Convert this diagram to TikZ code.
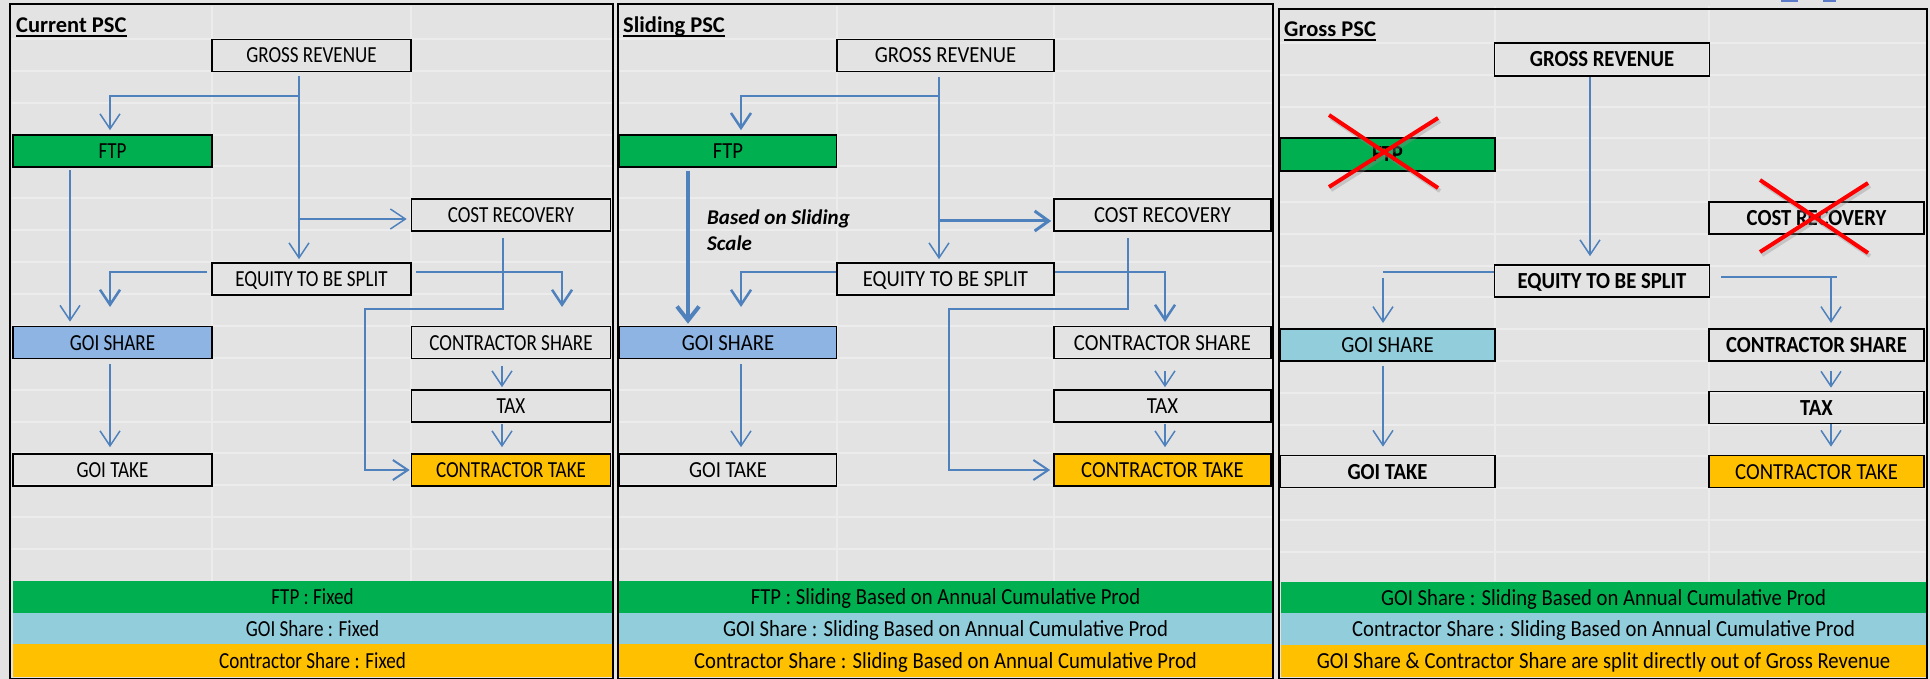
\documentclass[tikz,border=0pt]{standalone}
\usepackage{fontspec}
\setmainfont{Carlito}
\newfontfamily\boxfont{Carlito}[FakeStretch=0.83]
\newfontfamily\boxfontw{Carlito}[FakeStretch=0.90]
\usetikzlibrary{arrows.meta}
\definecolor{bgc}{HTML}{E3E3E3}
\definecolor{gridc}{HTML}{ECECEC}
\definecolor{ftpgreen}{HTML}{00B050}
\definecolor{bandblue}{HTML}{92CDDC}
\definecolor{goiblue}{HTML}{8DB4E2}
\definecolor{orng}{HTML}{FFC000}
\definecolor{arrowblue}{HTML}{4F81BD}
\definecolor{markblue}{HTML}{5B7BC8}
\begin{document}
\begin{tikzpicture}[x=1pt,y=-1pt,
  box/.style={draw=black, line width=1.6pt, minimum height=32pt, inner sep=0pt,
    text height=15pt, text depth=0pt, font=\boxfont\fontsize{23}{27}\selectfont},
  wa/.style={minimum width=199pt},
  wb/.style={minimum width=217pt, font=\boxfontw\fontsize{23}{27}\selectfont},
  wc/.style={minimum width=215pt, font=\boxfontw\fontsize{23}{27}\selectfont},
  wcb/.style={minimum width=215pt, font=\boxfontw\bfseries\fontsize{23}{27}\selectfont},
  band/.style={inner sep=0pt, text height=15pt, text depth=0pt,
    font=\boxfont\fontsize{23}{27}\selectfont},
  bandw/.style={band, font=\boxfontw\fontsize{23}{27}\selectfont},
  conn/.style={draw=arrowblue, line width=1.5pt},
  connm/.style={draw=arrowblue, line width=2pt},
  connt/.style={draw=arrowblue, line width=2.5pt},
  av/.style={-{Straight Barb[length=15pt,width=20pt]}},
  ttl/.style={anchor=base west, inner sep=0pt, font=\bfseries\fontsize{22.5}{26}\selectfont},
  cross/.style={draw=red, line width=4pt},
  crossshadow/.style={draw=black!45, line width=4pt, opacity=0.35},
  panel/.style={draw=black, line width=2pt},
  gridl/.style={draw=gridc, line width=2pt}
]
\useasboundingbox (0,0) rectangle (1930,679);
\fill[bgc] (0,0) rectangle (1930,679);

% grid lines
\foreach \k in {0,...,16} {
  \draw[gridl] (12,39+31.875*\k) -- (612,39+31.875*\k);
  \draw[gridl] (619,39+31.875*\k) -- (1272,39+31.875*\k);
  \draw[gridl] (1280,43+31.8*\k) -- (1926,43+31.8*\k);
}
\foreach \xx in {212,411,837,1054,1495,1709} {
  \draw[gridl] (\xx,6) -- (\xx,581);
}

% small marks at top
\fill[markblue] (1781,0) rectangle (1798,1.6);
\fill[markblue] (1823,0) rectangle (1836,1.6);

% ---------------- Panel 1 ----------------
\node[band,fill=ftpgreen,minimum width=599pt,minimum height=32pt] (b1a) at (312.5,597) {FTP : Fixed};
\node[band,fill=bandblue,minimum width=599pt,minimum height=31pt] (b1b) at (312.5,628.5) {GOI Share : Fixed};
\node[band,fill=orng,minimum width=599pt,minimum height=33pt] (b1c) at (312.5,660.5) {Contractor Share : Fixed};
\draw[panel] (10,4) rectangle (613,679);

\node[ttl] (t1) at (16,33) {Current PSC};
\draw[line width=1.5pt] ([yshift=-3pt]t1.base west) -- ([yshift=-3pt]t1.base east);

\node[box,wa] (gr1) at (311.5,55.5) {GROSS REVENUE};
\node[box,wa,fill=ftpgreen] (ftp1) at (112.5,151) {FTP};
\node[box,wa] (cr1) at (511,215) {COST RECOVERY};
\node[box,wa] (eq1) at (311.5,279) {EQUITY TO BE SPLIT};
\node[box,wa,fill=goiblue] (goi1) at (112.5,342.5) {GOI SHARE};
\node[box,wa] (cs1) at (511,342.5) {CONTRACTOR SHARE};
\node[box,wa] (tax1) at (511,406) {TAX};
\node[box,wa] (gt1) at (112.5,470) {GOI TAKE};
\node[box,wa,fill=orng] (ct1) at (511,470) {CONTRACTOR TAKE};

\coordinate (j1) at (299,96);
\coordinate (k1) at (110,96);
\coordinate (m1) at (299,219);
\coordinate (f1) at (70,0);
\coordinate (el1) at (110,307);
\coordinate (er1) at (562,307);
\coordinate (c1a) at (503,309);
\coordinate (c1b) at (365,309);
\coordinate (g1) at (110,0);
\coordinate (s1) at (502,0);
\draw[conn,av,shorten <=4pt,shorten >=3pt] (gr1.south -| j1) -- (eq1.north -| j1);
\draw[conn,av,shorten >=4pt] (j1) -- (k1) -- (ftp1.north -| k1);
\draw[conn,av,shorten >=4pt] (m1) -- (cr1.west |- m1);
\draw[conn,av,shorten <=2pt,shorten >=4pt] (ftp1.south -| f1) -- (goi1.north -| f1);
\draw[connt,av] ([xshift=-4pt,yshift=7pt]eq1.west) -| (el1);
\draw[connt,av] ([xshift=4pt,yshift=7pt]eq1.east) -| (er1);
\draw[connm,av,shorten <=6pt,shorten >=1pt] (cr1.south -| c1a) -- (c1a) -- (c1b) -- (c1b |- ct1.west) -- (ct1.west);
\draw[conn,av,shorten <=5pt,shorten >=6pt] (goi1.south -| g1) -- (gt1.north -| g1);
\draw[conn,av,shorten <=7pt,shorten >=2pt] (cs1.south -| s1) -- (tax1.north -| s1);
\draw[conn,av,shorten <=1pt,shorten >=6pt] (tax1.south -| s1) -- (ct1.north -| s1);

% ---------------- Panel 2 ----------------
\node[bandw,fill=ftpgreen,minimum width=653pt,minimum height=32pt] (b2a) at (945.5,597) {FTP : Sliding Based on Annual Cumulative Prod};
\node[bandw,fill=bandblue,minimum width=653pt,minimum height=31pt] (b2b) at (945.5,628.5) {GOI Share : Sliding Based on Annual Cumulative Prod};
\node[bandw,fill=orng,minimum width=653pt,minimum height=33pt] (b2c) at (945.5,660.5) {Contractor Share : Sliding Based on Annual Cumulative Prod};
\draw[panel] (618,4) rectangle (1273,679);

\node[ttl] (t2) at (623,33) {Sliding PSC};
\draw[line width=1.5pt] ([yshift=-3pt]t2.base west) -- ([yshift=-3pt]t2.base east);

\node[box,wb] (gr2) at (945.5,55.5) {GROSS REVENUE};
\node[box,wb,fill=ftpgreen] (ftp2) at (728,151) {FTP};
\node[box,wb] (cr2) at (1162.5,215) {COST RECOVERY};
\node[box,wb] (eq2) at (945.5,279) {EQUITY TO BE SPLIT};
\node[box,wb,fill=goiblue] (goi2) at (728,342.5) {GOI SHARE};
\node[box,wb] (cs2) at (1162.5,342.5) {CONTRACTOR SHARE};
\node[box,wb] (tax2) at (1162.5,406) {TAX};
\node[box,wb] (gt2) at (728,470) {GOI TAKE};
\node[box,wb,fill=orng] (ct2) at (1162.5,470) {CONTRACTOR TAKE};

\node[anchor=west, align=left, inner sep=0pt, font=\bfseries\itshape\fontsize{21}{26}\selectfont] (lbl2) at (707,230) {Based on Sliding\\Scale};

\coordinate (j2) at (939,96);
\coordinate (k2) at (741,96);
\coordinate (m2) at (939,221);
\coordinate (f2) at (688,0);
\coordinate (el2) at (741,307);
\coordinate (er2) at (1165,322);
\coordinate (c2a) at (1128,309);
\coordinate (c2b) at (949,309);
\coordinate (g2) at (741,0);
\coordinate (s2) at (1165,0);
\draw[conn,av,shorten <=5pt,shorten >=3pt] (gr2.south -| j2) -- (eq2.north -| j2);
\draw[connt,av,shorten >=4pt] (j2) -- (k2) -- (ftp2.north -| k2);
\draw[draw=arrowblue,line width=3pt,-{Straight Barb[length=14pt,width=20pt]},shorten >=2pt] (m2) -- (cr2.west |- m2);
\draw[draw=arrowblue,line width=4pt,-{Straight Barb[length=14pt,width=22pt]},shorten <=3pt,shorten >=2pt] (ftp2.south -| f2) -- (goi2.north -| f2);
\draw[connt,av] ([yshift=7pt]eq2.west) -| (el2);
\draw[connt,av] ([yshift=7pt]eq2.east) -| (er2);
\draw[connm,av,shorten <=6pt,shorten >=3pt] (cr2.south -| c2a) -- (c2a) -- (c2b) -- (c2b |- ct2.west) -- (ct2.west);
\draw[conn,av,shorten <=5pt,shorten >=6pt] (goi2.south -| g2) -- (gt2.north -| g2);
\draw[conn,av,shorten <=12pt,shorten >=2pt] (cs2.south -| s2) -- (tax2.north -| s2);
\draw[conn,av,shorten <=1pt,shorten >=6pt] (tax2.south -| s2) -- (ct2.north -| s2);

% ---------------- Panel 3 ----------------
\node[bandw,fill=ftpgreen,minimum width=645pt,minimum height=31pt] (b3a) at (1603.5,597.5) {GOI Share : Sliding Based on Annual Cumulative Prod};
\node[bandw,fill=bandblue,minimum width=645pt,minimum height=32pt] (b3b) at (1603.5,629) {Contractor Share : Sliding Based on Annual Cumulative Prod};
\node[bandw,fill=orng,minimum width=645pt,minimum height=32pt] (b3c) at (1603.5,661) {GOI Share \& Contractor Share are split directly out of Gross Revenue};
\draw[panel] (1279,9) rectangle (1927,679);

\node[ttl] (t3) at (1284,37) {Gross PSC};
\draw[line width=1.5pt] ([yshift=-3pt]t3.base west) -- ([yshift=-3pt]t3.base east);

\node[box,wcb,minimum height=33pt] (gr3) at (1602,59.5) {GROSS REVENUE};
\node[box,wcb,minimum height=33pt,fill=ftpgreen] (ftp3) at (1387.5,154.5) {FTP};
\node[box,wcb] (cr3) at (1816.5,218) {COST RECOVERY};
\node[box,wcb] (eq3) at (1602,281) {EQUITY TO BE SPLIT};
\node[box,wc,fill=bandblue] (goi3) at (1387.5,345) {GOI SHARE};
\node[box,wcb] (cs3) at (1816.5,345) {CONTRACTOR SHARE};
\node[box,wcb] (tax3) at (1816.5,407.5) {TAX};
\node[box,wcb] (gt3) at (1387.5,471.5) {GOI TAKE};
\node[box,wc,fill=orng] (ct3) at (1816.5,471.5) {CONTRACTOR TAKE};

\coordinate (j3) at (1590,0);
\coordinate (h3) at (1383,272);
\coordinate (el3) at (1383,323);
\coordinate (q3) at (1837,277);
\coordinate (r3) at (1831,277);
\coordinate (er3) at (1831,323);
\coordinate (g3) at (1383,0);
\coordinate (s3) at (1831,0);
\draw[conn,av,shorten >=8pt] (gr3.south -| j3) -- (eq3.north -| j3);
\draw[connt] ([yshift=9pt]eq3.west) -- (h3);
\draw[conn,av,shorten <=6pt] (h3) -- (el3);
\draw[connt] ([xshift=11pt,yshift=4pt]eq3.east) -- (q3);
\draw[conn,av] (r3) -- (er3);
\draw[conn,av,shorten <=4pt,shorten >=8pt] (goi3.south -| g3) -- (gt3.north -| g3);
\draw[conn,av,shorten <=9pt,shorten >=3pt] (cs3.south -| s3) -- (tax3.north -| s3);
\draw[conn,av,shorten >=8pt] (tax3.south -| s3) -- (ct3.north -| s3);

% red crosses
\begin{scope}[shift={(2,3)}]
\draw[crossshadow] (1329,115) -- (1438,188);
\draw[crossshadow] (1329,187) -- (1438,118);
\draw[crossshadow] (1760,180) -- (1868,253);
\draw[crossshadow] (1760,252) -- (1868,183);
\end{scope}
\draw[cross] (1329,115) -- (1438,188);
\draw[cross] (1329,187) -- (1438,118);
\draw[cross] (1760,180) -- (1868,253);
\draw[cross] (1760,252) -- (1868,183);
\end{tikzpicture}
\end{document}
